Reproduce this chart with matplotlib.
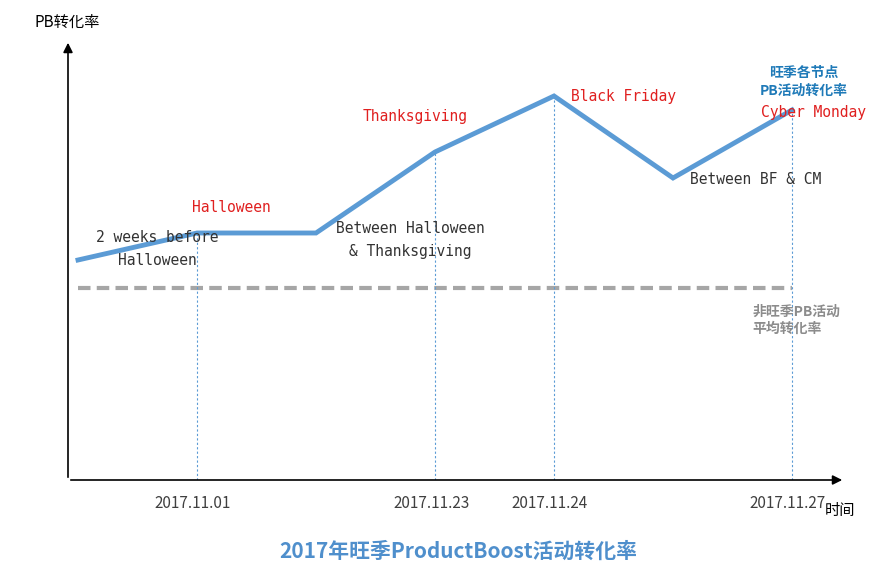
import matplotlib.pyplot as plt

# data
dates = ["2017.11.01", "2017.11.23", "2017.11.24", "2017.11.27"]
date_idx = [1, 3, 4, 6]
stages = ["2 weeks before\nHalloween", "Halloween", "Between Halloween\n& Thanksgiving",
          "Thanksgiving", "Black Friday", "Between BF & CM", "Cyber Monday"]
rates = [2.20, 2.47, 2.47, 3.28, 3.84, 3.02, 3.70]
offseason_avg = 1.92

cjk = ["Noto Sans CJK SC", "Noto Sans CJK JP", "Noto Sans CJK TC", "Noto Sans CJK KR", "DejaVu Sans"]
mono = "DejaVu Sans Mono"
blue = "#5b9bd5"

fig = plt.figure(figsize=(8.76, 5.8), dpi=100)
ax = fig.add_axes([68 / 876, 100 / 580, 777 / 876, 440 / 580])
ax.set_xlim(-10 / 119, 767 / 119)
ax.set_ylim(0, 4.4)
for s in ax.spines.values():
    s.set_visible(False)
ax.set_xticks([])
ax.set_yticks([])

# axes arrows
ax.annotate("", xy=(1, 0), xytext=(0, 0), xycoords="axes fraction",
            arrowprops=dict(arrowstyle="-|>", color="black", lw=1.2, mutation_scale=14))
ax.annotate("", xy=(0, 1), xytext=(0, 0), xycoords="axes fraction",
            arrowprops=dict(arrowstyle="-|>", color="black", lw=1.2, mutation_scale=14))

x = list(range(len(rates)))
ax.plot(x, rates, color=blue, lw=3.5, solid_joinstyle="miter")
ax.plot([0, 6], [offseason_avg] * 2, color="#a6a6a6", lw=3, ls=(0, (3, 1.5)))

date_x = [0.96, 2.97, 3.96, 5.96]
for i, d, dx in zip(date_idx, dates, date_x):
    ax.vlines(i, 0, rates[i], color=blue, lw=0.8, ls=(0, (2, 2)))
    ax.text(dx, -0.15, d, ha="center", va="top", fontsize=11, color="#404040", family=cjk)

red = "#e02020"
dark = "#333333"
fs = 10.5
ax.text(0.15, 2.31, stages[0], ha="left", va="center", fontsize=fs, color=dark,
        family=mono, linespacing=1.6, multialignment="center")
ax.text(1.29, 2.73, stages[1], ha="center", va="center", fontsize=fs, color=red, family=mono)
ax.text(2.79, 2.4, stages[2], ha="center", va="center", fontsize=fs, color=dark,
        family=mono, linespacing=1.6, multialignment="center")
ax.text(2.83, 3.63, stages[3], ha="center", va="center", fontsize=fs, color=red, family=mono)
ax.text(4.14, 3.83, stages[4], ha="left", va="center", fontsize=fs, color=red, family=mono)
ax.text(5.14, 3.01, stages[5], ha="left", va="center", fontsize=fs, color=dark, family=mono)
ax.text(6.18, 3.68, stages[6], ha="center", va="center", fontsize=fs, color=red, family=mono)
ax.text(6.1, 3.98, "旺季各节点\nPB活动转化率", ha="center", va="center", fontsize=10,
        color="#1f7ab8", family=cjk, fontweight="bold", linespacing=1.3)
ax.text(5.67, 1.6, "非旺季PB活动\n平均转化率", ha="left", va="center", fontsize=10,
        color="#8c8c8c", family=cjk, fontweight="bold", linespacing=1.3)

fig.text(35 / 876, 1 - 22 / 580, "PB转化率", ha="left", va="center", fontsize=11, family=cjk)
fig.text(840 / 876, 1 - 511 / 580, "时间", ha="center", va="center", fontsize=11, family=cjk)
fig.text(458 / 876, 1 - 551 / 580, "2017年旺季ProductBoost活动转化率", ha="center",
         va="center", fontsize=15, family=cjk, color="#4f8fcc", fontweight="bold")

fig.savefig("out.png", dpi=100)
